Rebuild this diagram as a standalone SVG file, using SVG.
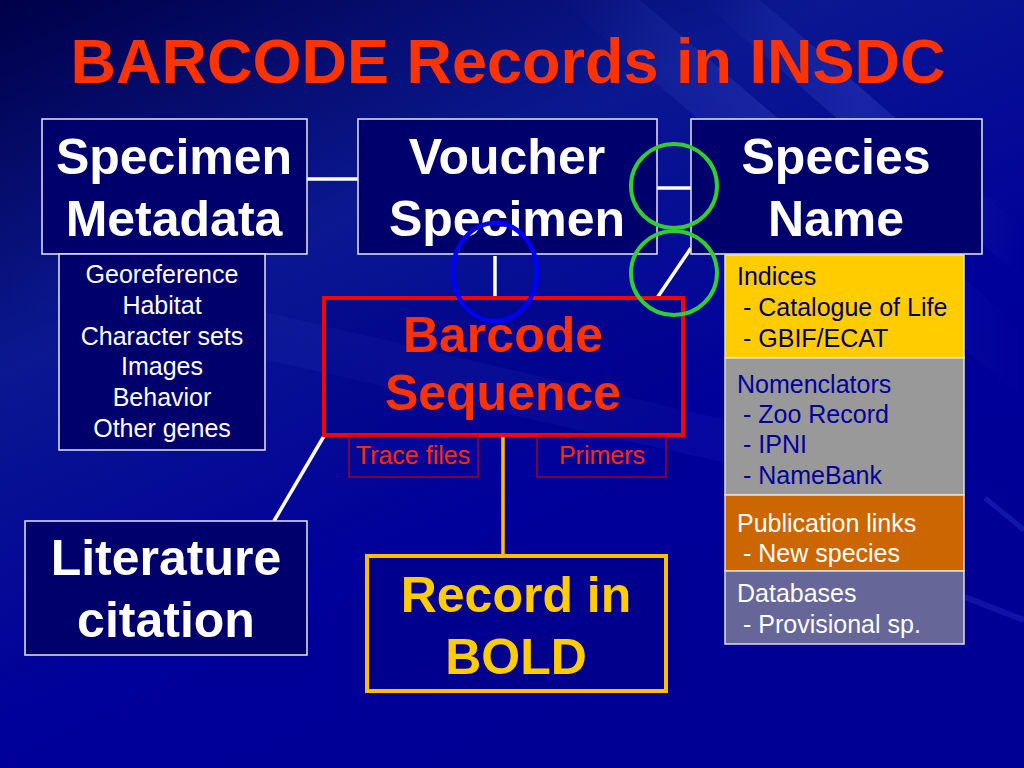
<svg xmlns="http://www.w3.org/2000/svg" width="1024" height="768" viewBox="0 0 1024 768">
<defs>
<linearGradient id="bg" x1="0" y1="0" x2="0.6" y2="1">
<stop offset="0" stop-color="#000048"/>
<stop offset="0.35" stop-color="#0a1890"/>
<stop offset="0.7" stop-color="#00009a"/>
<stop offset="1" stop-color="#000094"/>
</linearGradient>
<linearGradient id="streak" x1="0" y1="0" x2="1" y2="0">
<stop offset="0" stop-color="#6f86ff" stop-opacity="0"/>
<stop offset="0.5" stop-color="#6f86ff" stop-opacity="0.18"/>
<stop offset="1" stop-color="#6f86ff" stop-opacity="0"/>
</linearGradient>
</defs>
<style>
.big{font-family:"Liberation Sans",Arial,sans-serif;font-weight:bold;font-size:50px;text-anchor:middle}
.wb{fill:#ffffff}
.sm{font-family:"Liberation Sans",Arial,sans-serif;font-size:25px}
.node{fill:#00006c;stroke:#e6e6f0;stroke-width:1.5}
.conn{stroke:#ffffff;stroke-width:3.5;fill:none}
.panel{stroke:#e0e0e0;stroke-width:1.5}
</style>
<rect x="0" y="0" width="1024" height="768" fill="url(#bg)"/>
<g id="background-streaks">
<polygon points="560,0 640,0 1024,330 1024,400" fill="url(#streak)"/>
<polygon points="700,0 760,0 1024,230 1024,280" fill="url(#streak)"/>
<polygon points="0,250 0,300 1024,530 1024,490" fill="url(#streak)" opacity="0.5"/>
<line x1="985" y1="498" x2="1024" y2="530" stroke="#5a6cff" stroke-opacity="0.2" stroke-width="5"/>
<line x1="965" y1="597" x2="1024" y2="620" stroke="#5a6cff" stroke-opacity="0.18" stroke-width="6"/>
</g>
<text id="title" x="508" y="83" font-family="Liberation Sans,Arial,sans-serif" font-weight="bold" font-size="63" fill="#ff3300" text-anchor="middle">BARCODE Records in INSDC</text>
<g id="connectors">
<line class="conn" x1="307" y1="179" x2="358" y2="179"/>
<line class="conn" x1="657" y1="188" x2="691" y2="188"/>
<line class="conn" x1="495" y1="256" x2="495" y2="298"/>
<line class="conn" x1="691" y1="248" x2="657" y2="298"/>
<line class="conn" x1="324" y1="436" x2="274" y2="521"/>
<line x1="503" y1="436" x2="503" y2="555" stroke="#ffbf00" stroke-width="3.5"/>
</g>
<g id="specimen-metadata">
<rect class="node" x="42" y="119" width="265" height="135"/>
<text class="big wb" x="174" y="174">Specimen</text>
<text class="big wb" x="174" y="236">Metadata</text>
</g>
<g id="metadata-list">
<rect class="node" x="59" y="254" width="206" height="196"/>
<g class="sm" fill="#ffffff" text-anchor="middle">
<text x="162" y="283">Georeference</text>
<text x="162" y="314">Habitat</text>
<text x="162" y="345">Character sets</text>
<text x="162" y="375">Images</text>
<text x="162" y="406">Behavior</text>
<text x="162" y="437">Other genes</text>
</g>
</g>
<g id="voucher-specimen">
<rect class="node" x="358" y="119" width="299" height="135"/>
<text class="big wb" x="507" y="174">Voucher</text>
<text class="big wb" x="507" y="236">Specimen</text>
</g>
<g id="species-name">
<rect class="node" x="691" y="119" width="291" height="135"/>
<text class="big wb" x="836" y="174">Species</text>
<text class="big wb" x="836" y="236">Name</text>
</g>
<g id="barcode-sequence">
<rect x="324" y="298" width="359" height="137" fill="#000080" fill-opacity="0.35" stroke="#ff0000" stroke-width="4"/>
<text class="big" fill="#ff3300" x="503" y="352">Barcode</text>
<text class="big" fill="#ff3300" x="503" y="410">Sequence</text>
</g>
<g id="trace-files">
<rect x="349" y="436" width="129" height="41" fill="none" stroke="#cc0000" stroke-width="1.2"/>
<text class="sm" fill="#ff2a00" x="413" y="464" text-anchor="middle">Trace files</text>
</g>
<g id="primers">
<rect x="537" y="436" width="129" height="41" fill="none" stroke="#cc0000" stroke-width="1.2"/>
<text class="sm" fill="#ff2a00" x="602" y="464" text-anchor="middle">Primers</text>
</g>
<g id="literature-citation">
<rect class="node" x="25" y="521" width="282" height="134"/>
<text class="big wb" x="166" y="575">Literature</text>
<text class="big wb" x="166" y="637">citation</text>
</g>
<g id="record-in-bold">
<rect x="367" y="556" width="299" height="135" fill="#000080" fill-opacity="0.4" stroke="#ffbf00" stroke-width="4"/>
<text class="big" fill="#ffcc00" x="516" y="612">Record in</text>
<text class="big" fill="#ffcc00" x="516" y="674">BOLD</text>
</g>
<g id="indices">
<rect class="panel" x="725" y="255" width="239" height="103" fill="#ffcc00"/>
<g class="sm" fill="#000066">
<text x="737" y="285">Indices</text>
<text x="743" y="316">- Catalogue of Life</text>
<text x="743" y="347">- GBIF/ECAT</text>
</g>
</g>
<g id="nomenclators">
<rect class="panel" x="725" y="358" width="239" height="137" fill="#999999"/>
<g class="sm" fill="#000099">
<text x="737" y="393">Nomenclators</text>
<text x="743" y="423">- Zoo Record</text>
<text x="743" y="453">- IPNI</text>
<text x="743" y="484">- NameBank</text>
</g>
</g>
<g id="publication-links">
<rect class="panel" x="725" y="495" width="239" height="76" fill="#cc6600"/>
<g class="sm" fill="#ffffff">
<text x="737" y="532">Publication links</text>
<text x="743" y="562">- New species</text>
</g>
</g>
<g id="databases">
<rect class="panel" x="725" y="571" width="239" height="73" fill="#666699"/>
<g class="sm" fill="#ffffff">
<text x="737" y="602">Databases</text>
<text x="743" y="633">- Provisional sp.</text>
</g>
</g>
<g id="highlights" fill="none">
<ellipse cx="495" cy="272" rx="42" ry="49" stroke="#0000ff" stroke-width="4.5"/>
<ellipse cx="674" cy="186" rx="43" ry="42" stroke="#33cc33" stroke-width="4"/>
<ellipse cx="674" cy="273" rx="43" ry="42" stroke="#33cc33" stroke-width="4"/>
</g>
</svg>
